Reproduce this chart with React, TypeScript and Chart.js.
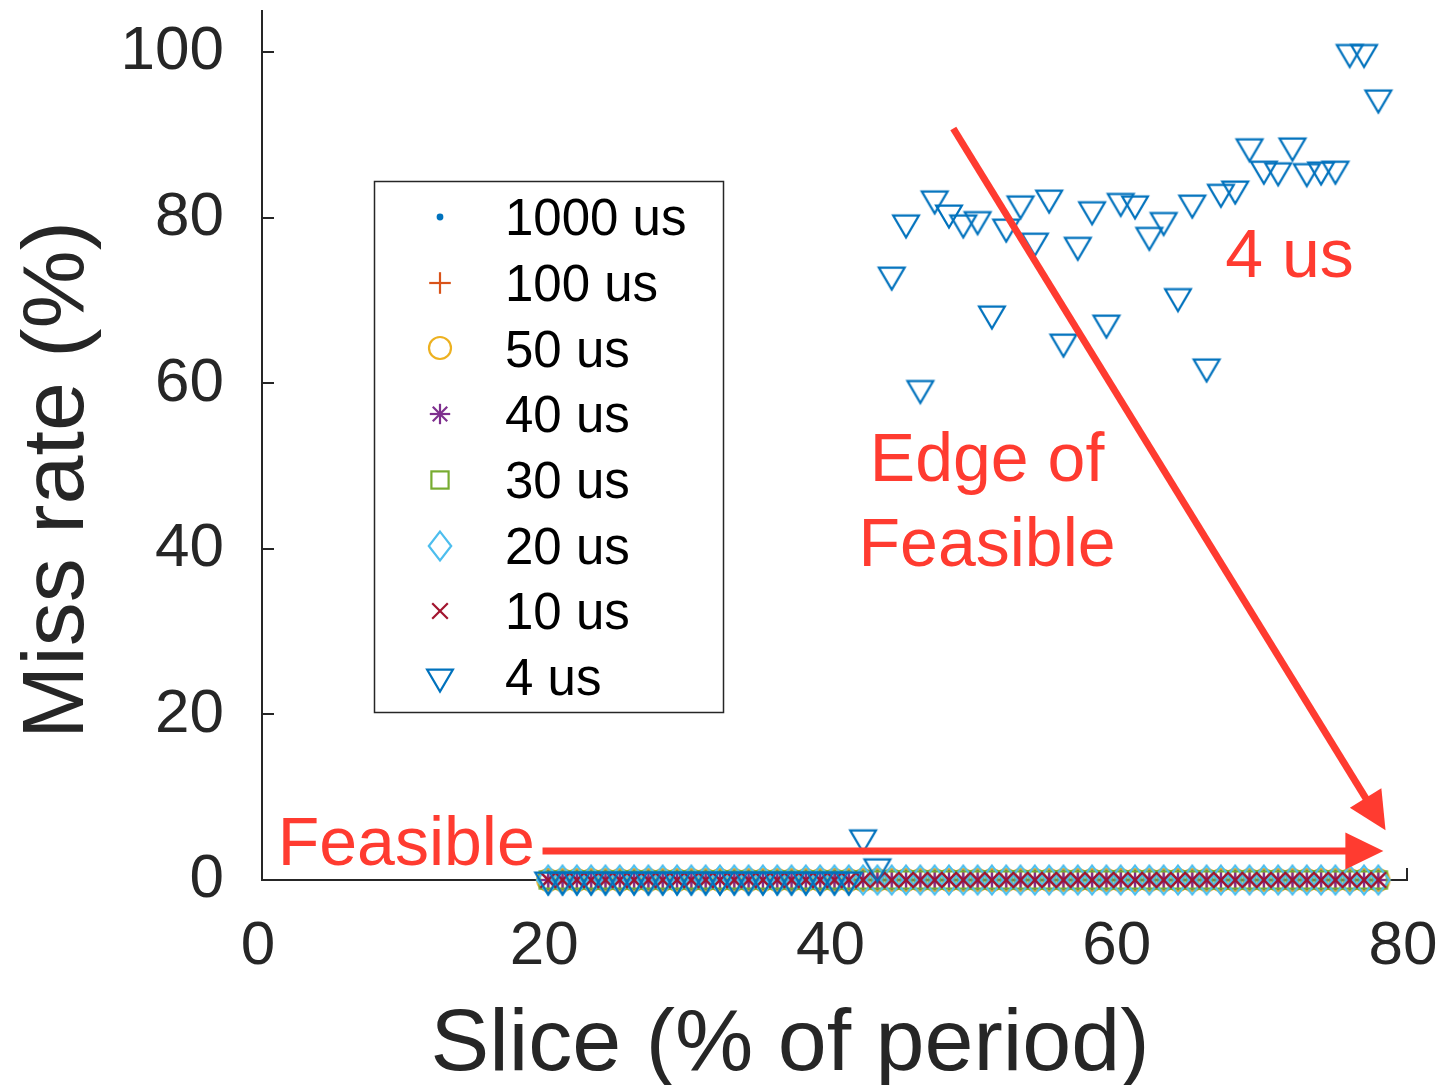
import React, { useEffect, useRef } from 'react';
import { Chart, registerables } from 'chart.js';

Chart.register(...registerables);

// ---------------- data ----------------
const SLICES = [
  20, 21, 22, 23, 24, 25, 26, 27, 28, 29,
  30, 31, 32, 33, 34, 35, 36, 37, 38, 39,
  40, 41, 42, 43, 44, 45, 46, 47, 48, 49,
  50, 51, 52, 53, 54, 55, 56, 57, 58, 59,
  60, 61, 62, 63, 64, 65, 66, 67, 68, 69,
  70, 71, 72, 73, 74, 75, 76, 77, 78,
];

const MISS_1000US = [
  0, 0, 0, 0, 0, 0, 0, 0, 0, 0, 0, 0, 0, 0, 0, 0, 0, 0, 0, 0,
  0, 0, 0, 0, 0, 0, 0, 0, 0, 0, 0, 0, 0, 0, 0, 0, 0, 0, 0, 0,
  0, 0, 0, 0, 0, 0, 0, 0, 0, 0, 0, 0, 0, 0, 0, 0, 0, 0, 0,
];
const MISS_100US = [
  0, 0, 0, 0, 0, 0, 0, 0, 0, 0, 0, 0, 0, 0, 0, 0, 0, 0, 0, 0,
  0, 0, 0, 0, 0, 0, 0, 0, 0, 0, 0, 0, 0, 0, 0, 0, 0, 0, 0, 0,
  0, 0, 0, 0, 0, 0, 0, 0, 0, 0, 0, 0, 0, 0, 0, 0, 0, 0, 0,
];
const MISS_50US = [
  0, 0, 0, 0, 0, 0, 0, 0, 0, 0, 0, 0, 0, 0, 0, 0, 0, 0, 0, 0,
  0, 0, 0, 0, 0, 0, 0, 0, 0, 0, 0, 0, 0, 0, 0, 0, 0, 0, 0, 0,
  0, 0, 0, 0, 0, 0, 0, 0, 0, 0, 0, 0, 0, 0, 0, 0, 0, 0, 0,
];
const MISS_40US = [
  0, 0, 0, 0, 0, 0, 0, 0, 0, 0, 0, 0, 0, 0, 0, 0, 0, 0, 0, 0,
  0, 0, 0, 0, 0, 0, 0, 0, 0, 0, 0, 0, 0, 0, 0, 0, 0, 0, 0, 0,
  0, 0, 0, 0, 0, 0, 0, 0, 0, 0, 0, 0, 0, 0, 0, 0, 0, 0, 0,
];
const MISS_30US = [
  0, 0, 0, 0, 0, 0, 0, 0, 0, 0, 0, 0, 0, 0, 0, 0, 0, 0, 0, 0,
  0, 0, 0, 0, 0, 0, 0, 0, 0, 0, 0, 0, 0, 0, 0, 0, 0, 0, 0, 0,
  0, 0, 0, 0, 0, 0, 0, 0, 0, 0, 0, 0, 0, 0, 0, 0, 0, 0, 0,
];
const MISS_20US = [
  0, 0, 0, 0, 0, 0, 0, 0, 0, 0, 0, 0, 0, 0, 0, 0, 0, 0, 0, 0,
  0, 0, 0, 0, 0, 0, 0, 0, 0, 0, 0, 0, 0, 0, 0, 0, 0, 0, 0, 0,
  0, 0, 0, 0, 0, 0, 0, 0, 0, 0, 0, 0, 0, 0, 0, 0, 0, 0, 0,
];
const MISS_10US = [
  0, 0, 0, 0, 0, 0, 0, 0, 0, 0, 0, 0, 0, 0, 0, 0, 0, 0, 0, 0,
  0, 0, 0, 0, 0, 0, 0, 0, 0, 0, 0, 0, 0, 0, 0, 0, 0, 0, 0, 0,
  0, 0, 0, 0, 0, 0, 0, 0, 0, 0, 0, 0, 0, 0, 0, 0, 0, 0, 0,
];
const MISS_4US = [
  0, 0, 0, 0, 0, 0, 0, 0, 0, 0, 0, 0, 0, 0, 0, 0, 0, 0, 0, 0,
  0, 0, 5.1, 1.6, 73.1, 79.4, 59.4, 82.3, 80.6, 79.4,
  79.8, 68.4, 78.9, 81.7, 77.2, 82.4, 65.0, 76.7, 81.0, 67.3,
  82.0, 81.7, 77.9, 79.7, 70.5, 81.8, 62.0, 83.1, 83.5, 88.6,
  85.9, 85.7, 88.7, 85.6, 85.8, 85.9, 100, 100, 94.5,
];

const SERIES = [MISS_1000US, MISS_100US, MISS_50US, MISS_40US, MISS_30US, MISS_20US, MISS_10US, MISS_4US];
const SERIES_LABELS = ['1000 us', '100 us', '50 us', '40 us', '30 us', '20 us', '10 us', '4 us'];
const SERIES_COLORS = ['#0072BD', '#D95319', '#EDB120', '#7E2F8E', '#77AC30', '#4DBEEE', '#A2142F', '#0072BD'];
const SERIES_MARKERS = ['dot', 'plus', 'circle', 'star', 'square', 'diamond', 'x', 'triangle'];

const X_TICKS = [0, 20, 40, 60, 80];
const Y_TICKS = [0, 20, 40, 60, 80, 100];
const X_TITLE = 'Slice (% of period)';
const Y_TITLE = 'Miss rate (%)';

// annotations (data coordinates)
const ARROWS = [
  { from: [48.3, 90.8], to: [78.5, 6.0] },
  { from: [19.6, 3.5], to: [78.35, 3.5] },
];
const NOTES = [
  { text: '4 us', x: 67.3, y: 72.8, align: 'left' },
  { text: 'Edge of', x: 50.66, y: 48.2, align: 'center' },
  { text: 'Feasible', x: 50.66, y: 37.9, align: 'center' },
  { text: 'Feasible', x: 1.1, y: 1.8, align: 'left' },
];

const FONT = '"Liberation Sans", Arial, Helvetica, sans-serif';
const AXIS_COLOR = '#262626';
const RED = '#FF3B30';

function makeMarker(kind: string, color: string): HTMLCanvasElement {
  const S = 40;
  const c = document.createElement('canvas');
  c.width = S;
  c.height = S;
  const g = c.getContext('2d') as CanvasRenderingContext2D;
  const m = S / 2;
  g.strokeStyle = color;
  g.fillStyle = color;
  g.lineWidth = 2.2;
  g.lineJoin = 'miter';
  const line = (x1: number, y1: number, x2: number, y2: number) => {
    g.beginPath();
    g.moveTo(x1, y1);
    g.lineTo(x2, y2);
    g.stroke();
  };
  switch (kind) {
    case 'dot':
      g.beginPath();
      g.arc(m, m, 3.4, 0, Math.PI * 2);
      g.fill();
      break;
    case 'plus':
      line(m - 10.8, m, m + 10.8, m);
      line(m, m - 10.8, m, m + 10.8);
      break;
    case 'circle':
      g.beginPath();
      g.arc(m, m, 11, 0, Math.PI * 2);
      g.stroke();
      break;
    case 'star': {
      const r = 10.2;
      const d = r * Math.SQRT1_2;
      line(m, m - r, m, m + r);
      line(m - r, m, m + r, m);
      line(m - d, m - d, m + d, m + d);
      line(m - d, m + d, m + d, m - d);
      break;
    }
    case 'square':
      g.strokeRect(m - 8.6, m - 8.6, 17.2, 17.2);
      break;
    case 'diamond':
      g.beginPath();
      g.moveTo(m, m - 14.4);
      g.lineTo(m + 11.2, m);
      g.lineTo(m, m + 14.4);
      g.lineTo(m - 11.2, m);
      g.closePath();
      g.stroke();
      break;
    case 'x':
      line(m - 7.8, m - 7.8, m + 7.8, m + 7.8);
      line(m - 7.8, m + 7.8, m + 7.8, m - 7.8);
      break;
    case 'triangle':
      g.beginPath();
      g.moveTo(m - 12.9, m - 7.4);
      g.lineTo(m + 12.9, m - 7.4);
      g.lineTo(m, m + 14.6);
      g.closePath();
      g.stroke();
      break;
  }
  return c;
}

function drawArrow(ctx: CanvasRenderingContext2D, x1: number, y1: number, x2: number, y2: number) {
  const headLen = 38;
  const headHalf = 18.5;
  const dx = x2 - x1;
  const dy = y2 - y1;
  const len = Math.hypot(dx, dy);
  const ux = dx / len;
  const uy = dy / len;
  const bx = x2 - ux * headLen;
  const by = y2 - uy * headLen;
  ctx.save();
  ctx.strokeStyle = RED;
  ctx.fillStyle = RED;
  ctx.lineWidth = 7;
  ctx.lineCap = 'butt';
  ctx.beginPath();
  ctx.moveTo(x1, y1);
  ctx.lineTo(bx + ux * 2, by + uy * 2);
  ctx.stroke();
  ctx.beginPath();
  ctx.moveTo(x2, y2);
  ctx.lineTo(bx - uy * headHalf, by + ux * headHalf);
  ctx.lineTo(bx + uy * headHalf, by - ux * headHalf);
  ctx.closePath();
  ctx.fill();
  ctx.restore();
}

function zeroPadding(s: any) {
  s.paddingTop = 0;
  s.paddingBottom = 0;
  s.paddingLeft = 0;
  s.paddingRight = 0;
}

export default function App() {
  const canvasRef = useRef<HTMLCanvasElement | null>(null);

  useEffect(() => {
    const canvas = canvasRef.current;
    if (!canvas) return;
    const markers = SERIES_MARKERS.map((k, i) => makeMarker(k, SERIES_COLORS[i]));

    const datasets = SERIES.map((vals, i) => ({
      label: SERIES_LABELS[i],
      data: SLICES.map((x, j) => ({ x, y: vals[j] })),
      pointStyle: markers[i] as any,
      pointRadius: 10,
      pointHoverRadius: 10,
      showLine: false,
      order: SERIES.length - 1 - i,
      clip: false as any,
    }));

    const tickPlugin = {
      id: 'inwardTicks',
      beforeDatasetsDraw(chart: any) {
        const { ctx, chartArea, scales } = chart;
        ctx.save();
        ctx.strokeStyle = AXIS_COLOR;
        ctx.lineWidth = 2;
        Y_TICKS.forEach((v) => {
          const py = Math.round(scales.y.getPixelForValue(v));
          ctx.beginPath();
          ctx.moveTo(chartArea.left, py);
          ctx.lineTo(chartArea.left + 12, py);
          ctx.stroke();
        });
        X_TICKS.forEach((v) => {
          const px = Math.round(scales.x.getPixelForValue(v));
          ctx.beginPath();
          ctx.moveTo(px, chartArea.bottom);
          ctx.lineTo(px, chartArea.bottom - 12);
          ctx.stroke();
        });
        ctx.restore();
      },
    };

    const overlayPlugin = {
      id: 'overlay',
      afterDatasetsDraw(chart: any) {
        const { ctx, scales } = chart;
        const sx = scales.x;
        const sy = scales.y;
        // arrows
        ARROWS.forEach((a) => {
          drawArrow(
            ctx,
            sx.getPixelForValue(a.from[0]),
            sy.getPixelForValue(a.from[1]),
            sx.getPixelForValue(a.to[0]),
            sy.getPixelForValue(a.to[1])
          );
        });
        // notes
        ctx.save();
        ctx.fillStyle = RED;
        ctx.font = `68px ${FONT}`;
        ctx.textBaseline = 'alphabetic';
        NOTES.forEach((n) => {
          ctx.textAlign = n.align as CanvasTextAlign;
          ctx.fillText(n.text, sx.getPixelForValue(n.x), sy.getPixelForValue(n.y));
        });
        ctx.restore();

        // legend
        const L = { x: 374.5, y: 181.5, w: 349, h: 531 };
        ctx.save();
        ctx.fillStyle = '#ffffff';
        ctx.fillRect(L.x, L.y, L.w, L.h);
        ctx.strokeStyle = AXIS_COLOR;
        ctx.lineWidth = 1.5;
        ctx.strokeRect(L.x, L.y, L.w, L.h);
        ctx.font = `51px ${FONT}`;
        ctx.fillStyle = '#000000';
        ctx.textAlign = 'left';
        ctx.textBaseline = 'alphabetic';
        SERIES_LABELS.forEach((lab, i) => {
          const cy = 217 + i * 65.7;
          const mk = markers[i];
          ctx.drawImage(mk, 440 - mk.width / 2, Math.round(cy) - mk.height / 2);
          ctx.fillText(lab, 505, cy + 0.358 * 51);
        });
        ctx.restore();

        // axis titles
        ctx.save();
        ctx.fillStyle = AXIS_COLOR;
        ctx.font = `88px ${FONT}`;
        ctx.textAlign = 'center';
        ctx.textBaseline = 'alphabetic';
        ctx.fillText(X_TITLE, 790, 1070);
        ctx.translate(83, 480);
        ctx.rotate(-Math.PI / 2);
        ctx.fillText(Y_TITLE, 0, 0);
        ctx.restore();
      },
    };

    const chart = new Chart(canvas, {
      type: 'scatter',
      data: { datasets: datasets as any },
      options: {
        responsive: false,
        animation: false,
        devicePixelRatio: 1,
        events: [],
        layout: { padding: { top: 11, right: 34, left: 0, bottom: 0 } },
        plugins: { legend: { display: false }, tooltip: { enabled: false } },
        scales: {
          x: {
            type: 'linear',
            min: 0,
            max: 80,
            grid: { display: false, drawTicks: false },
            border: { display: true, color: AXIS_COLOR, width: 2 },
            ticks: {
              color: AXIS_COLOR,
              font: { family: FONT, size: 62 },
              padding: 30,
              labelOffset: -4,
              maxRotation: 0,
              autoSkip: false,
            },
            afterBuildTicks: (s: any) => {
              s.ticks = X_TICKS.map((v) => ({ value: v }));
            },
            afterFit: (s: any) => {
              s.height = 205;
              zeroPadding(s);
            },
          },
          y: {
            type: 'linear',
            min: 0,
            max: 105,
            grid: { display: false, drawTicks: false },
            border: { display: true, color: AXIS_COLOR, width: 2 },
            ticks: {
              color: AXIS_COLOR,
              font: { family: FONT, size: 62 },
              padding: 38,
              autoSkip: false,
            },
            afterBuildTicks: (s: any) => {
              s.ticks = Y_TICKS.map((v) => ({ value: v }));
            },
            afterFit: (s: any) => {
              s.width = 262;
              zeroPadding(s);
            },
          },
        },
      },
      plugins: [tickPlugin, overlayPlugin],
    });

    return () => chart.destroy();
  }, []);

  return (
    <div style={{ position: 'absolute', left: 0, top: 0, width: 1441, height: 1085, background: '#ffffff' }}>
      <canvas ref={canvasRef} width={1441} height={1085} />
    </div>
  );
}
